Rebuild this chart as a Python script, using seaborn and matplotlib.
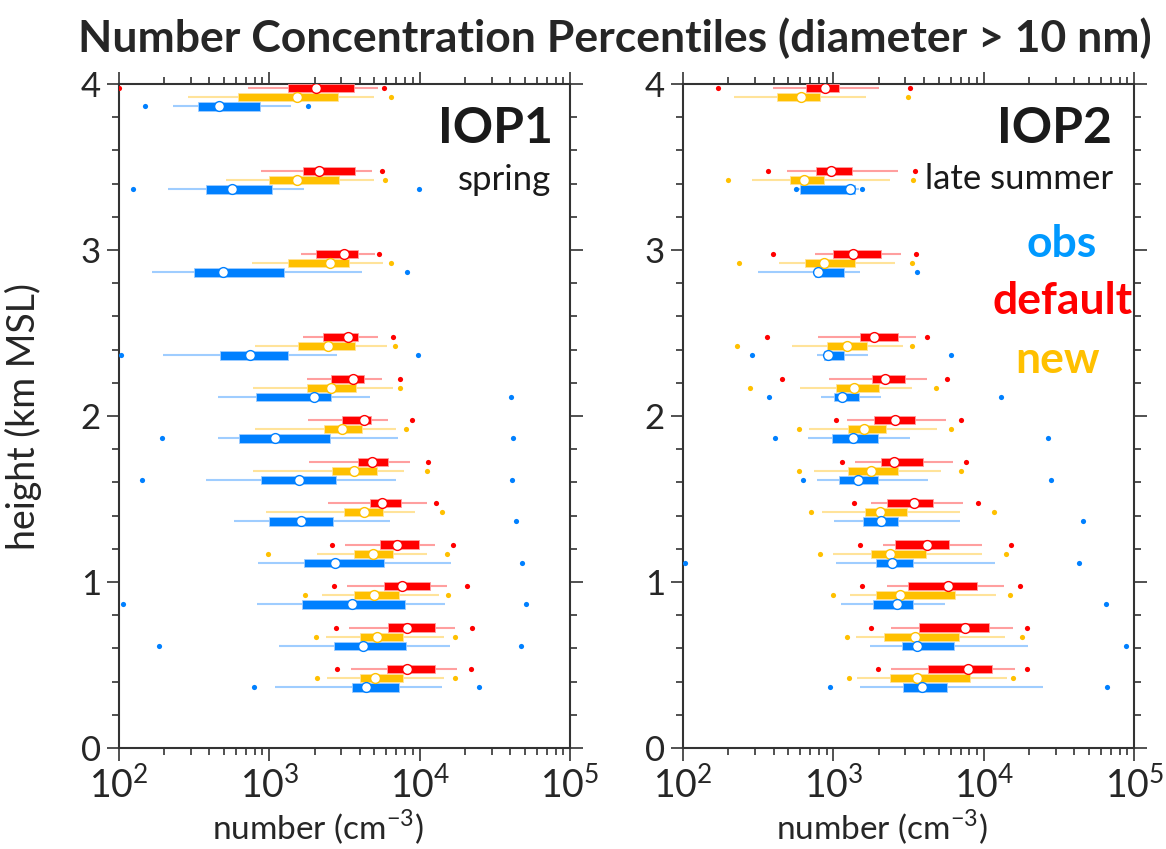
import numpy as np
import pandas as pd
import matplotlib
matplotlib.use("Agg")
import matplotlib.pyplot as plt
from matplotlib.ticker import MultipleLocator
import seaborn as sns

# heights of the percentile groups (km MSL)
heights = [0.42, 0.67, 0.92, 1.17, 1.42, 1.67, 1.92, 2.17, 2.42, 2.92, 3.42, 3.92]

# each row: low dot, whisker low, box low, median, box high, whisker high, high dot
# values are log10 of number concentration (cm-3), nan = not shown
nan = np.nan
iop1_default = [
    [3.450, 3.544, 3.781, 3.912, 4.098, 4.247, 4.342],
    [3.441, 3.532, 3.787, 3.918, 4.100, 4.233, 4.344],
    [3.430, 3.515, 3.761, 3.881, 4.069, 4.180, 4.315],
    [3.419, 3.504, 3.737, 3.848, 3.996, 4.098, 4.222],
    [nan,   3.393, 3.666, 3.750, 3.874, 4.047, 4.105],
    [nan,   3.266, 3.592, 3.683, 3.787, 3.936, 4.053],
    [nan,   3.257, 3.484, 3.626, 3.679, 3.792, 3.949],
    [nan,   3.251, 3.411, 3.559, 3.632, 3.747, 3.869],
    [nan,   3.222, 3.357, 3.521, 3.592, 3.725, 3.821],
    [nan,   3.211, 3.311, 3.497, 3.592, 3.703, 3.730],
    [nan,   2.945, 3.222, 3.331, 3.568, 3.683, 3.747],
    [2.000, 2.860, 3.127, 3.310, 3.560, 3.725, 3.763],
]
iop1_new = [
    [3.317, 3.386, 3.604, 3.705, 3.888, 4.158, 4.233],
    [3.313, 3.377, 3.606, 3.719, 3.888, 4.158, 4.231],
    [3.238, 3.349, 3.566, 3.693, 3.865, 4.129, 4.191],
    [2.989, 3.320, 3.560, 3.686, 3.821, 4.047, 4.178],
    [nan,   2.978, 3.499, 3.626, 3.754, 3.969, 4.151],
    [nan,   2.894, 3.417, 3.564, 3.714, 3.892, 4.045],
    [nan,   2.907, 3.364, 3.486, 3.617, 3.843, 3.910],
    [nan,   2.894, 3.251, 3.413, 3.577, 3.819, 3.869],
    [nan,   2.905, 3.193, 3.391, 3.570, 3.781, 3.836],
    [nan,   2.883, 3.127, 3.401, 3.532, 3.754, 3.808],
    [nan,   2.710, 3.000, 3.186, 3.461, 3.697, 3.770],
    [nan,   2.461, 2.794, 3.182, 3.457, 3.697, 3.808],
]
iop1_obs = [
    [2.896, 3.038, 3.552, 3.641, 3.861, 4.151, 4.395],
    [2.268, 3.065, 3.430, 3.621, 3.907, 4.200, 4.670],
    [2.024, 2.916, 3.216, 3.550, 3.905, 4.165, 4.706],
    [nan,   2.927, 3.229, 3.437, 3.761, 4.209, 4.683],
    [nan,   2.765, 2.996, 3.213, 3.426, 3.803, 4.639],
    [2.151, 2.579, 2.947, 3.196, 3.441, 3.839, 4.615],
    [2.286, 2.661, 2.796, 3.038, 3.400, 3.856, 4.621],
    [nan,   2.661, 2.912, 3.297, 3.411, 3.668, 4.606],
    [2.015, 2.295, 2.674, 2.872, 3.124, 3.450, 3.985],
    [nan,   2.222, 2.501, 2.694, 3.096, 3.617, 3.914],
    [2.091, 2.326, 2.577, 2.752, 3.020, 3.231, 3.992],
    [2.175, 2.357, 2.523, 2.665, 2.938, 3.142, 3.257],
]
iop2_default = [
    [3.295, 3.384, 3.630, 3.892, 4.056, 4.207, 4.289],
    [3.249, 3.380, 3.570, 3.876, 4.034, 4.196, 4.285],
    [3.191, 3.355, 3.493, 3.763, 3.954, 4.134, 4.242],
    [3.174, 3.327, 3.407, 3.624, 3.766, 3.990, 4.180],
    [3.138, 3.247, 3.353, 3.533, 3.663, 3.861, 3.959],
    [3.054, 3.145, 3.315, 3.402, 3.593, 3.796, 3.883],
    [3.018, 3.091, 3.269, 3.407, 3.540, 3.746, 3.850],
    [2.659, 2.971, 3.257, 3.340, 3.477, 3.623, 3.754],
    [2.561, 2.898, 3.178, 3.269, 3.428, 3.546, 3.619],
    [2.597, 2.878, 2.998, 3.131, 3.315, 3.446, 3.546],
    [2.566, 2.688, 2.883, 2.981, 3.120, 3.426, 3.542],
    [2.233, 2.599, 2.816, 2.945, 3.038, 3.302, 3.510],
]
iop2_new = [
    [3.103, 3.154, 3.375, 3.553, 3.906, 4.154, 4.196],
    [3.091, 3.147, 3.335, 3.542, 3.832, 4.138, 4.253],
    [2.996, 3.109, 3.282, 3.442, 3.806, 4.081, 4.172],
    [2.912, 2.994, 3.247, 3.375, 3.615, 3.987, 4.145],
    [2.854, 2.921, 3.209, 3.309, 3.490, 3.841, 4.069],
    [2.772, 2.870, 3.100, 3.249, 3.428, 3.713, 3.848],
    [2.772, 2.836, 3.094, 3.200, 3.349, 3.690, 3.781],
    [2.448, 2.776, 3.020, 3.138, 3.304, 3.524, 3.679],
    [2.362, 2.723, 2.956, 3.089, 3.224, 3.462, 3.524],
    [2.371, 2.637, 2.812, 2.938, 3.145, 3.411, 3.520],
    [2.302, 2.457, 2.710, 2.801, 2.936, 3.375, 3.528],
    [nan,   2.340, 2.625, 2.785, 2.910, 3.214, 3.493],
]
iop2_obs = [
    [2.974, 3.178, 3.464, 3.588, 3.755, 4.391, 4.819],
    [nan,   3.242, 3.457, 3.553, 3.803, 4.291, 4.943],
    [nan,   3.051, 3.260, 3.424, 3.526, 3.739, 4.814],
    [2.011, 3.016, 3.280, 3.391, 3.530, 4.072, 4.635],
    [nan,   3.001, 3.198, 3.315, 3.426, 3.841, 4.661],
    [2.798, 2.890, 3.036, 3.162, 3.297, 3.626, 4.448],
    [2.610, 2.830, 2.991, 3.131, 3.297, 3.508, 4.428],
    [2.570, 2.918, 3.003, 3.054, 3.169, 3.315, 4.112],
    [2.459, 2.888, 2.934, 2.963, 3.067, 3.229, 3.779],
    [nan,   2.499, 2.878, 2.900, 3.071, 3.178, 3.555],
    [2.750, 2.760, 2.776, 3.110, 3.142, 3.170, 3.187],
    [nan,   nan,   nan,   nan,   nan,   nan,   nan],
]

red, red_l = "#ff0000", "#ff9f9f"
yel, yel_l = "#ffc000", "#ffe39a"
blu, blu_l = "#0080ff", "#9fcdff"

sns.set_theme(style="ticks")
plt.rcParams["font.family"] = ["Lato", "DejaVu Sans"]
plt.rcParams["mathtext.fontset"] = "custom"
plt.rcParams["mathtext.rm"] = "Lato"
plt.rcParams["axes.edgecolor"] = "#333333"


def draw(ax, series):
    for rows, off, col, light in series:
        a = 10 ** np.array(rows, dtype=float)
        y = np.array(heights) + off
        ok = ~np.isnan(a[:, 3])
        ax.hlines(y[ok], a[ok, 1], a[ok, 5], color=light, lw=1.5, zorder=2)
        ax.barh(y[ok], a[ok, 4] - a[ok, 2], left=a[ok, 2], height=0.05,
                color=col, edgecolor=light, linewidth=0.6, zorder=3)
        dots = pd.DataFrame({"x": np.r_[a[:, 0], a[:, 6]], "y": np.r_[y, y]}).dropna()
        sns.scatterplot(data=dots, x="x", y="y", ax=ax, color=col, s=14,
                        linewidth=0, zorder=4)
        sns.scatterplot(x=a[ok, 3], y=y[ok], ax=ax, color="white", edgecolor=col,
                        s=50, linewidth=1.0, zorder=5)


def style(ax):
    ax.set_xscale("log")
    ax.set_xlim(1e2, 1e5)
    ax.set_ylim(0, 4)
    ax.yaxis.set_major_locator(MultipleLocator(1))
    ax.yaxis.set_minor_locator(MultipleLocator(0.2))
    ax.tick_params(which="both", direction="out", top=True, right=True,
                   color="#333333", width=1.2)
    ax.tick_params(which="major", length=9, labelsize=25, pad=4)
    ax.tick_params(axis="x", which="major", labelsize=27)
    ax.tick_params(which="minor", length=5)
    for s in ax.spines.values():
        s.set_linewidth(1.5)
    ax.set_xlabel("number (cm$^{-3}$)", fontsize=24)
    ax.xaxis.set_label_coords(0.44, -0.09)
    ax.set_ylabel("")


fig = plt.figure(figsize=(11.66, 8.49), dpi=100)
ax1 = fig.add_axes([0.102, 0.119, 0.387, 0.782])
ax2 = fig.add_axes([0.5858, 0.119, 0.387, 0.782])

off = 0.055
draw(ax1, [(iop1_default, off, red, red_l), (iop1_new, 0, yel, yel_l), (iop1_obs, -off, blu, blu_l)])
draw(ax2, [(iop2_default, off, red, red_l), (iop2_new, 0, yel, yel_l), (iop2_obs, -off, blu, blu_l)])
style(ax1)
style(ax2)

ax1.set_ylabel("height (km MSL)", fontsize=27)
ax1.yaxis.set_label_coords(-0.171, 0.5)

ax1.text(0.962, 0.911, "IOP1", transform=ax1.transAxes, ha="right", va="baseline",
         fontsize=36, fontweight="bold", color="#1a1a1a")
ax1.text(0.958, 0.840, "spring", transform=ax1.transAxes, ha="right", va="baseline",
         fontsize=25, color="#1a1a1a")
ax2.text(0.951, 0.911, "IOP2", transform=ax2.transAxes, ha="right", va="baseline",
         fontsize=36, fontweight="bold", color="#1a1a1a")
ax2.text(0.953, 0.842, "late summer", transform=ax2.transAxes, ha="right", va="baseline",
         fontsize=25, color="#1a1a1a")
ax2.text(0.84, 0.740, "obs", transform=ax2.transAxes, ha="center", va="baseline",
         fontsize=32, fontweight="bold", color="#0099ff")
ax2.text(0.841, 0.654, "default", transform=ax2.transAxes, ha="center", va="baseline",
         fontsize=32, fontweight="bold", color=red)
ax2.text(0.829, 0.565, "new", transform=ax2.transAxes, ha="center", va="baseline",
         fontsize=32, fontweight="bold", color=yel)

fig.suptitle("Number Concentration Percentiles (diameter > 10 nm)", x=0.527, y=0.955,
             va="center", fontsize=32, fontweight="bold")

fig.savefig("out.png", dpi=100)
